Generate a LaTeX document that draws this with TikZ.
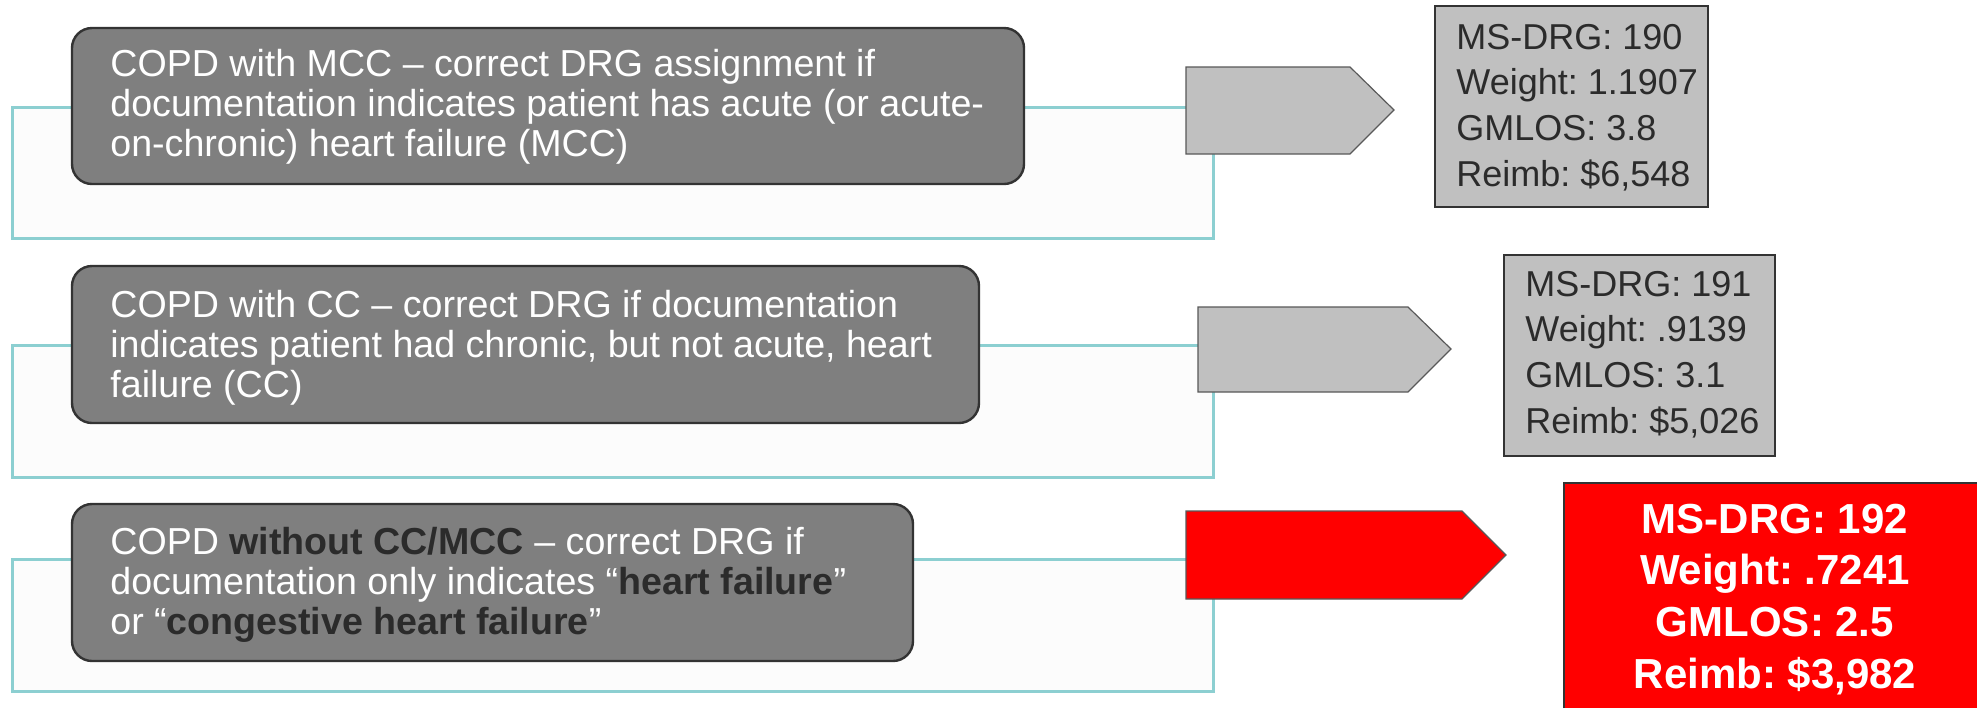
\documentclass[tikz,border=0pt]{standalone}
\usepackage{fontspec}
\setmainfont{Liberation Sans}
\definecolor{tealline}{HTML}{8CCFD1}
\definecolor{panelfill}{HTML}{FCFCFC}
\definecolor{cardfill}{HTML}{7F7F7F}
\definecolor{edge}{HTML}{333333}
\definecolor{lightfill}{HTML}{C0C0C0}
\definecolor{tagedge}{HTML}{595959}
\definecolor{txtdark}{HTML}{2B2B2B}
\definecolor{alert}{HTML}{FF0000}
\begin{document}
\frenchspacing
\begin{tikzpicture}[x=0.5pt,y=-0.5pt,
  panel/.style={draw=tealline, line width=1.5pt, fill=panelfill},
  cardbox/.style={draw=edge, line width=1.2pt, fill=cardfill, rounded corners=10pt},
  tag/.style={draw=tagedge, line width=0.6pt, fill=lightfill},
  result/.style={draw=edge, line width=1.2pt, fill=lightfill},
  % multi-line nodes are anchored at the baseline of their last line
  cardtext/.style={anchor=base west, inner sep=0pt, align=left, text=white,
    font=\fontsize{18.8}{20}\selectfont},
  restext/.style={anchor=base west, inner sep=0pt, align=left, text=txtdark,
    font=\fontsize{18}{22.8}\selectfont},
  hottext/.style={anchor=base, inner sep=0pt, align=center, text=white,
    font=\fontsize{21}{25.8}\selectfont\bfseries},
]
\useasboundingbox (0,0) rectangle (1977,708);
\fill[white] (0,0) rectangle (1977,708);

% --- MS-DRG 190 ---
\draw[panel] (12,107) rectangle (1213,238);
\draw[cardbox] (72,28) rectangle (1024,184);
\node[cardtext] (c1) at (110,156) {COPD with MCC – correct DRG assignment if\\documentation indicates patient has acute (or acute-\\on-chronic) heart failure (MCC)};
\draw[tag] (1186,67) -- (1350,67) -- (1394,110) -- (1350,154) -- (1186,154) -- cycle;
\draw[result] (1435,6) rectangle (1708,207);
\node[restext] (r1) at (1456,186) {MS-DRG: 190\\Weight: 1.1907\\GMLOS: 3.8\\Reimb: \$6,548};

% --- MS-DRG 191 ---
\draw[panel] (12,345) rectangle (1213,477);
\draw[cardbox] (72,266) rectangle (979,423);
\node[cardtext] (c2) at (110,397) {COPD with CC – correct DRG if documentation\\indicates patient had chronic, but not acute, heart\\failure (CC)};
\draw[tag] (1198,307) -- (1408,307) -- (1451,349) -- (1408,392) -- (1198,392) -- cycle;
\draw[result] (1504,255) rectangle (1775,456);
\node[restext] (r2) at (1525,433) {MS-DRG: 191\\Weight: .9139\\GMLOS: 3.1\\Reimb: \$5,026};

% --- MS-DRG 192 ---
\draw[panel] (12,559) rectangle (1213,691);
\draw[cardbox] (72,504) rectangle (913,661);
\node[cardtext] (c3) at (110,634) {COPD \textbf{\color{txtdark}without CC/MCC} – correct DRG if\\documentation only indicates “\textbf{\color{txtdark}heart failure}”\\or “\textbf{\color{txtdark}congestive heart failure}”};
\draw[tag, fill=alert] (1186,511) -- (1462,511) -- (1506,555) -- (1462,599) -- (1186,599) -- cycle;
\fill[alert] (1564,483) rectangle (1977,708);
\draw[edge, line width=1.2pt] (1564,708) -- (1564,483) -- (1977,483);
\node[hottext] (r3) at (1775,688) {MS-DRG: 192\\Weight: .7241\\GMLOS: 2.5\\Reimb: \$3,982};
\end{tikzpicture}
\end{document}
